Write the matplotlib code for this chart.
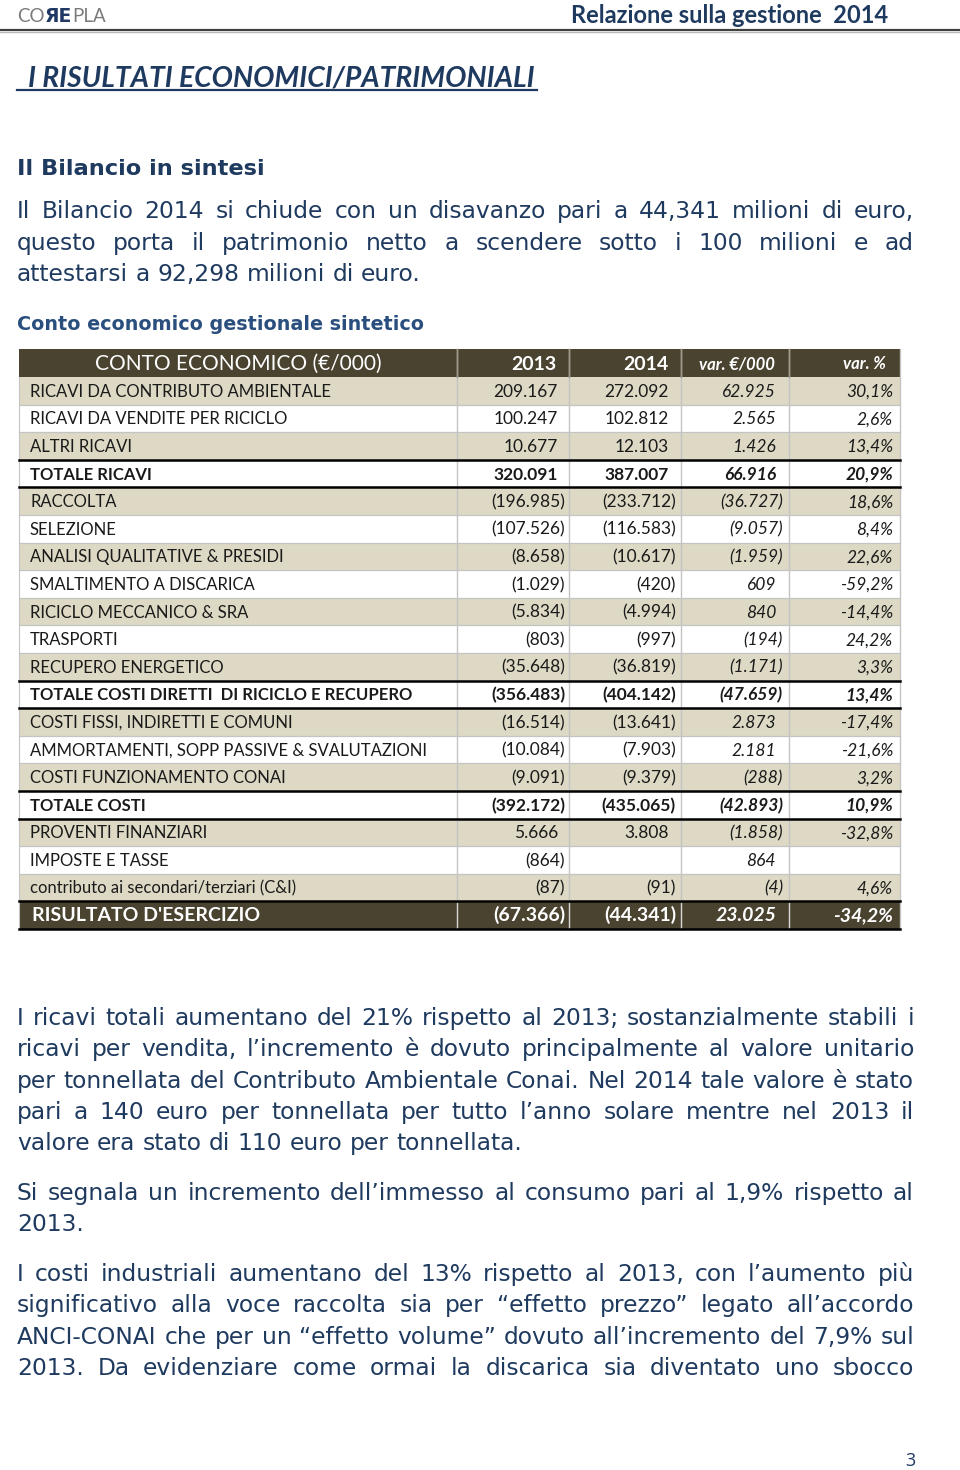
import matplotlib
matplotlib.use("Agg")
import matplotlib.pyplot as plt
from matplotlib.patches import Rectangle

# ---- data ----
labels = ["RICAVI DA CONTRIBUTO AMBIENTALE", "RICAVI DA VENDITE PER RICICLO", "ALTRI RICAVI",
          "TOTALE RICAVI", "RACCOLTA", "SELEZIONE", "ANALISI QUALITATIVE & PRESIDI",
          "SMALTIMENTO A DISCARICA", "RICICLO MECCANICO & SRA", "TRASPORTI", "RECUPERO ENERGETICO",
          "TOTALE COSTI DIRETTI  DI RICICLO E RECUPERO", "COSTI FISSI, INDIRETTI E COMUNI",
          "AMMORTAMENTI, SOPP PASSIVE & SVALUTAZIONI", "COSTI FUNZIONAMENTO CONAI", "TOTALE COSTI",
          "PROVENTI FINANZIARI", "IMPOSTE E TASSE", "contributo ai secondari/terziari (C&I)",
          "RISULTATO D'ESERCIZIO"]
v2013 = [209167, 100247, 10677, 320091, -196985, -107526, -8658, -1029, -5834, -803, -35648,
         -356483, -16514, -10084, -9091, -392172, 5666, -864, -87, -67366]
v2014 = [272092, 102812, 12103, 387007, -233712, -116583, -10617, -420, -4994, -997, -36819,
         -404142, -13641, -7903, -9379, -435065, 3808, None, -91, -44341]
var_eur = [62925, 2565, 1426, 66916, -36727, -9057, -1959, 609, 840, -194, -1171,
           -47659, 2873, 2181, -288, -42893, -1858, 864, -4, 23025]
var_pct = [30.1, 2.6, 13.4, 20.9, 18.6, 8.4, 22.6, -59.2, -14.4, 24.2, 3.3,
           13.4, -17.4, -21.6, 3.2, 10.9, -32.8, None, 4.6, -34.2]
header = ["CONTO ECONOMICO (€/000)", "2013", "2014", "var. €/000", "var. %"]
total_rows = [3, 11, 15]

para1 = ["Il Bilancio 2014 si chiude con un disavanzo pari a 44,341 milioni di euro,",
         "questo porta il patrimonio netto a scendere sotto i 100 milioni e ad",
         "attestarsi a 92,298 milioni di euro."]
para2 = ["I ricavi totali aumentano del 21% rispetto al 2013; sostanzialmente stabili i",
         "ricavi per vendita, l’incremento è dovuto principalmente al valore unitario",
         "per tonnellata del Contributo Ambientale Conai. Nel 2014 tale valore è stato",
         "pari a 140 euro per tonnellata per tutto l’anno solare mentre nel 2013 il",
         "valore era stato di 110 euro per tonnellata."]
para3 = ["Si segnala un incremento dell’immesso al consumo pari al 1,9% rispetto al",
         "2013."]
para4 = ["I costi industriali aumentano del 13% rispetto al 2013, con l’aumento più",
         "significativo alla voce raccolta sia per “effetto prezzo” legato all’accordo",
         "ANCI-CONAI che per un “effetto volume” dovuto all’incremento del 7,9% sul",
         "2013. Da evidenziare come ormai la discarica sia diventato uno sbocco"]

NAVY = "#1f3a5f"
HEAD = "#4a4330"
BEIGE = "#ddd9c4"
GRID = "#c4c4c4"
TBL = ["Lato", "DejaVu Sans"]
BODY = ["DejaVu Sans"]
BODY_FS = 16.8

fig = plt.figure(figsize=(9.6, 14.7), dpi=100, facecolor="white")
ax = fig.add_axes([0, 0, 1, 1])
ax.set_xlim(0, 960)
ax.set_ylim(1470, 0)
ax.axis("off")
renderer = fig.canvas.get_renderer()


def width_of(t):
    return t.get_window_extent(renderer).width


def paragraph(lines, x0, x1, y0, dy, last_justified=False, **kw):
    sp = ax.text(0, 0, "a a", **kw)
    s2 = ax.text(0, 0, "aa", **kw)
    space = width_of(sp) - width_of(s2)
    sp.remove()
    s2.remove()
    for i, line in enumerate(lines):
        words = line.split()
        y = y0 + i * dy
        ts = [ax.text(0, y, w, va="baseline", ha="left", **kw) for w in words]
        ws = [width_of(t) for t in ts]
        last = i == len(lines) - 1
        if len(ts) > 1 and (not last or last_justified):
            gap = max((x1 - x0 - sum(ws)) / (len(ts) - 1), 0.55 * space)
        else:
            gap = space
        x = x0
        for t, w in zip(ts, ws):
            t.set_x(x)
            x += w + gap


# ---- page header ----
x = 17
for part, colr, wt, fam in [("CO", "#7a7a7a", "normal", TBL), ("ЯE", "#1f3864", "bold", ["DejaVu Sans"]),
                            ("PLA", "#7a7a7a", "normal", TBL)]:
    t = ax.text(x, 22, part, color=colr, fontsize=13.5, fontweight=wt, family=fam, va="baseline")
    x += width_of(t)
ax.text(888, 23, "Relazione sulla gestione  2014", color=NAVY, fontsize=17, fontweight="bold",
        family=TBL, ha="right", va="baseline")
ax.plot([0, 960], [30, 30], color="#404040", lw=1.6)
ax.plot([0, 960], [32, 32], color="#b8b8b8", lw=1.0)

# ---- title ----
title = ax.text(28, 86, "I RISULTATI ECONOMICI/PATRIMONIALI", color=NAVY, fontsize=20.3,
                fontweight="bold", style="italic", family=TBL, va="baseline")
ax.plot([17, 28 + width_of(title) + 2], [90, 90], color=NAVY, lw=1.6)

# ---- intro ----
ax.text(17, 175, "Il Bilancio in sintesi", color=NAVY, fontsize=16.2, fontweight="bold",
        family=BODY, va="baseline")
paragraph(para1, 17, 914, 218, 31.5, color=NAVY, fontsize=BODY_FS, family=BODY)
ax.text(17, 330, "Conto economico gestionale sintetico", color="#2a4f7f", fontsize=13.8,
        fontweight="bold", family=BODY, va="baseline")

# ---- table ----
xe = [19, 457, 569, 681, 789, 900]
top = 349
hh = 28
rh = 27.6
n = len(labels)


def row_top(i):
    return top + hh + i * rh


def fmt_num(v):
    if v is None:
        return ""
    s = f"{abs(v):,}".replace(",", ".")
    return f"({s})" if v < 0 else s


def fmt_pct(v):
    if v is None:
        return ""
    return f"{v:.1f}%".replace(".", ",")


ax.add_patch(Rectangle((xe[0], top), xe[-1] - xe[0], hh, facecolor=HEAD, edgecolor="none"))
for i in range(n):
    y = row_top(i)
    if i == n - 1:
        fc = HEAD
    elif i % 2 == 0:
        fc = BEIGE
    else:
        fc = "white"
    ax.add_patch(Rectangle((xe[0], y), xe[-1] - xe[0], rh, facecolor=fc, edgecolor="none"))
    if i < n - 1:
        ax.plot([xe[0], xe[-1]], [y + rh, y + rh], color=GRID, lw=0.9)

# vertical separators
for x in xe[1:-1]:
    ax.plot([x, x], [top, row_top(n - 1)], color=GRID, lw=1.0)
    ax.plot([x, x], [row_top(n - 1) + 2, row_top(n)], color="#d8d8d8", lw=1.0)
    ax.plot([x, x], [top, top + hh], color="#a09a88", lw=1.0)
ax.plot([xe[-1], xe[-1]], [top, row_top(n)], color=GRID, lw=1.0)
ax.plot([xe[0], xe[0]], [top + hh, row_top(n)], color=GRID, lw=0.8)

# heavy lines around totals
for i in total_rows:
    for y in (row_top(i), row_top(i + 1)):
        ax.plot([xe[0], xe[-1]], [y, y], color="black", lw=1.8)
for y in (row_top(n - 1), row_top(n)):
    ax.plot([xe[0], xe[-1]], [y, y], color="black", lw=1.8)

# header text
hy = top + hh / 2 + 7
ax.text((xe[0] + xe[1]) / 2, hy, header[0], color="white", fontsize=15, family=TBL,
        ha="center", va="baseline")
ax.text(556, hy, header[1], color="white", fontsize=14, fontweight="bold", family=TBL,
        ha="right", va="baseline")
ax.text(668, hy, header[2], color="white", fontsize=14, fontweight="bold", family=TBL,
        ha="right", va="baseline")
ax.text(775, hy - 1, header[3], color="white", fontsize=12, fontweight="bold", style="italic",
        family=TBL, ha="right", va="baseline")
ax.text(886, hy - 1, header[4], color="white", fontsize=12, fontweight="bold", style="italic",
        family=TBL, ha="right", va="baseline")

# body rows
num_right = [565, 676, 783]
for i in range(n):
    yb = row_top(i) + rh / 2 + 6
    last = i == n - 1
    bold = i in total_rows or last
    col = "white" if last else "#1a1a1a"
    fs = 14 if last else 12
    nfs = 14 if last else 12.5
    ax.text(32 if last else 30, yb, labels[i], color=col, fontsize=fs,
            fontweight="bold" if bold else "normal", family=TBL, va="baseline")
    vals = [v2013[i], v2014[i], var_eur[i]]
    for k, v in enumerate(vals):
        if v is None:
            continue
        xr = num_right[k] - (0 if v < 0 else 7)
        ax.text(xr, yb, fmt_num(v), color=col, fontsize=nfs,
                fontweight="bold" if bold else "normal", style="italic" if k == 2 else "normal",
                family=TBL, ha="right", va="baseline")
    if var_pct[i] is not None:
        ax.text(893, yb, fmt_pct(var_pct[i]), color=col, fontsize=nfs,
                fontweight="bold" if bold else "normal", style="italic",
                family=TBL, ha="right", va="baseline")

# ---- lower paragraphs ----
paragraph(para2, 17, 914, 1025, 31.3, color=NAVY, fontsize=BODY_FS, family=BODY)
paragraph(para3, 17, 914, 1200, 31.3, color=NAVY, fontsize=BODY_FS, family=BODY)
paragraph(para4, 17, 914, 1281, 31.3, last_justified=True, color=NAVY, fontsize=BODY_FS,
          family=BODY)

ax.text(915, 1466, "3", color="#1f3864", fontsize=13, family=["Open Sans"], ha="right",
        va="baseline")

fig.savefig("out.png", dpi=100, facecolor="white")
